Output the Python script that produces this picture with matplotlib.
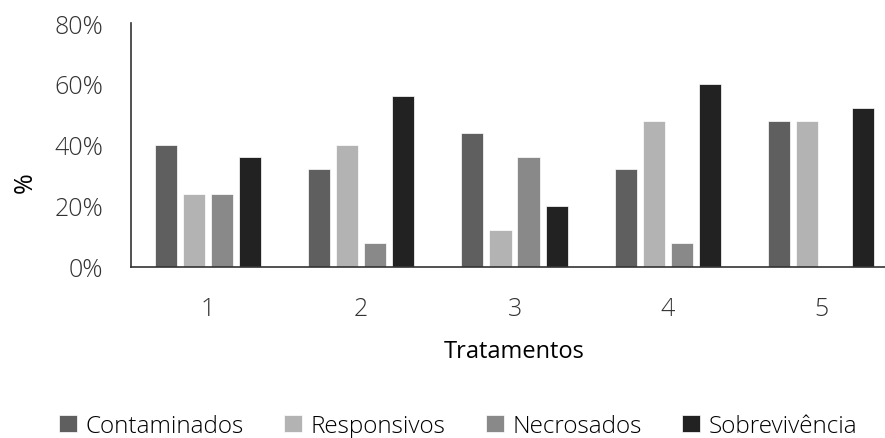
import numpy as np
import matplotlib.pyplot as plt
from matplotlib.ticker import FuncFormatter

plt.rcParams['font.family'] = ['Open Sans', 'DejaVu Sans']

tratamentos = ['1', '2', '3', '4', '5']
contaminados = [40, 32, 44, 32, 48]
responsivos = [24, 40, 12, 48, 48]
necrosados = [24, 8, 36, 8, 0]
sobrevivencia = [36, 56, 20, 60, 52]

series = [
    ('Contaminados', contaminados, '#5f5f5f'),
    ('Responsivos', responsivos, '#b3b3b3'),
    ('Necrosados', necrosados, '#898989'),
    ('Sobrevivência', sobrevivencia, '#222222'),
]

fig = plt.figure(figsize=(8.85, 4.39), dpi=100)
ax = fig.add_axes([131 / 885, 1 - 268 / 439, 767 / 885, 244 / 439])

x = np.arange(len(tratamentos))
step = 0.183
width = 0.144
for i, (name, vals, color) in enumerate(series):
    ax.bar(x + (i - 1.5) * step, vals, width, color=color, label=name,
           edgecolor='white', linewidth=0.5)

ax.set_xlim(-0.5, 4.5)
ax.set_ylim(0, 80)
ax.set_yticks([0, 20, 40, 60, 80])
ax.yaxis.set_major_formatter(FuncFormatter(lambda v, p: f'{v:.0f}%'))
ax.set_xticks(x)
ax.set_xticklabels(tratamentos)
ax.tick_params(length=0, labelsize=18, colors='#333333')
ax.tick_params(axis='x', pad=21)
ax.tick_params(axis='y', pad=20)
for lab in ax.get_xticklabels() + ax.get_yticklabels():
    lab.set_fontweight('light')

for side in ['top', 'right']:
    ax.spines[side].set_visible(False)
for side in ['left', 'bottom']:
    ax.spines[side].set_color('#333333')
    ax.spines[side].set_linewidth(1.2)

ax.set_xlabel('Tratamentos', fontsize=17, labelpad=13)
ax.set_ylabel('%', fontsize=18)
ax.yaxis.set_label_coords(-0.122, 0.35)

fig.legend(loc='center', bbox_to_anchor=(458 / 885, 1 - 427 / 439), ncol=4,
           frameon=False, handlelength=0.75, handleheight=0.75,
           handletextpad=0.35, columnspacing=1.65, prop={'weight': 'light', 'size': 17.5})

fig.savefig('out.png', dpi=100)
